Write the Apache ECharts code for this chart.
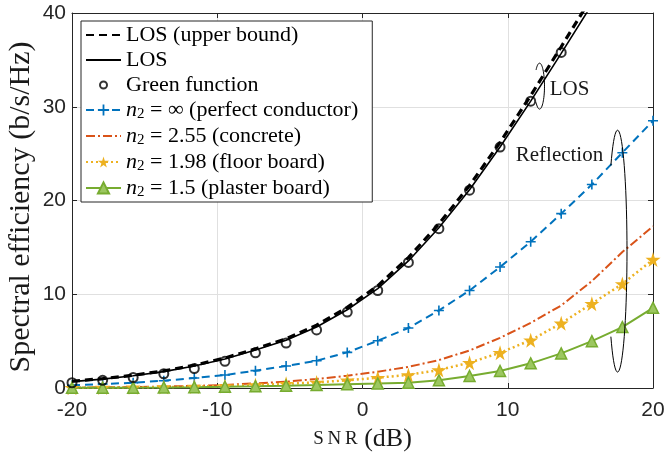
<!DOCTYPE html>
<html>
<head>
<meta charset="utf-8">
<script src="https://cdn.jsdelivr.net/npm/echarts@6/dist/echarts.min.js"></script>
<style>
  html, body { margin: 0; padding: 0; background: #fff; }
  #main { width: 668px; height: 457px; }
</style>
</head>
<body>
<div id="main"></div>
<script type="text/javascript">
// SNR sample points (dB)
var snr = [-20, -17.89, -15.79, -13.68, -11.58, -9.47, -7.37, -5.26, -3.16, -1.05,
           1.05, 3.16, 5.26, 7.37, 9.47, 11.58, 13.68, 15.79, 17.89, 20];

// spectral efficiency (b/s/Hz)
var losUpper = [0.72, 1.0, 1.36, 1.82, 2.43, 3.2, 4.17, 5.25, 6.7, 8.6,
                10.9, 13.9, 17.5, 21.6, 26.2, 31.2, 36.4, 41.7];
var los      = [0.68, 0.95, 1.3, 1.75, 2.35, 3.1, 4.05, 5.1, 6.5, 8.35,
                10.6, 13.55, 17.1, 21.15, 25.7, 30.6, 35.7, 40.9];
var green    = [0.56, 0.82, 1.12, 1.52, 2.08, 2.85, 3.75, 4.8, 6.2, 8.1,
                10.4, 13.4, 17.0, 21.1, 25.7, 30.6, 35.8];
var perfect  = [0.3, 0.42, 0.56, 0.78, 1.06, 1.38, 1.85, 2.34, 2.91, 3.8,
                5.04, 6.4, 8.27, 10.4, 12.9, 15.6, 18.6, 21.7, 25.1, 28.5];
var concrete = [0.05, 0.07, 0.1, 0.15, 0.22, 0.32, 0.5, 0.67, 0.96, 1.31,
                1.74, 2.25, 2.98, 4.0, 5.35, 6.95, 8.8, 11.4, 14.5, 17.25];
var floorB   = [0.03, 0.05, 0.07, 0.1, 0.15, 0.22, 0.32, 0.45, 0.6, 0.82,
                1.1, 1.4, 1.92, 2.7, 3.76, 5.1, 6.9, 9.0, 11.1, 13.7];
var plaster  = [0.02, 0.03, 0.04, 0.06, 0.09, 0.13, 0.18, 0.24, 0.31, 0.39,
                0.47, 0.56, 0.82, 1.28, 1.81, 2.63, 3.69, 5.0, 6.5, 8.55];

var names = ['LOS (upper bound)', 'LOS', 'Green function',
             'n2 = ∞ (perfect conductor)', 'n2 = 2.55 (concrete)',
             'n2 = 1.98 (floor board)', 'n2 = 1.5 (plaster board)'];

var xTicks = [-20, 20, 10];
var yTicks = [0, 40, 10];

function pts(ys) {
  return ys.map(function (v, i) { return [snr[i], v]; });
}

var plusPath = 'path://M4.2,0h1.6v4.2h4.2v1.6h-4.2v4.2h-1.6v-4.2h-4.2v-1.6h4.2z';
var starPath = 'path://M50,0L61,35L98,35L68,57L79,91L50,70L21,91L32,57L2,35L39,35Z';
var ringIcon = 'path://M0,0M20,20M15,10A5,5,0,1,1,5,10A5,5,0,1,1,15,10Z';

var axisCol = '#262626';
var serif = 'Liberation Serif';

var chart = echarts.init(document.getElementById('main'));

var tickAxis = function (pos, isX) {
  return {
    type: 'value', position: pos,
    min: isX ? xTicks[0] : yTicks[0], max: isX ? xTicks[1] : yTicks[1],
    interval: isX ? xTicks[2] : yTicks[2],
    axisLine: { show: true, onZero: false, lineStyle: { color: axisCol, width: 1 } },
    axisTick: { show: true, inside: true, length: 5, lineStyle: { color: axisCol } },
    axisLabel: { show: false },
    splitLine: { show: false }
  };
};

var noSym = { opacity: 0 };
var legendData = [
  { name: names[0], itemStyle: noSym },
  { name: names[1], itemStyle: noSym },
  { name: names[2], icon: ringIcon,
    itemStyle: { color: 'rgba(0,0,0,0)', borderColor: '#000', borderWidth: 2 } },
  { name: names[3] },
  { name: names[4], itemStyle: noSym },
  { name: names[5] },
  { name: names[6] }
];

var option = {
  animation: false,
  backgroundColor: '#fff',
  grid: { left: 72, right: 15, top: 13, bottom: 69, containLabel: false, outerBoundsMode: 'none' },
  xAxis: [{
    type: 'value', min: xTicks[0], max: xTicks[1], interval: xTicks[2],
    name: '{m|S\u2009N\u2009R} (dB)', nameLocation: 'middle', nameGap: 38,
    nameTextStyle: {
      fontFamily: serif, fontSize: 26, color: '#1a1a1a',
      rich: { m: { fontFamily: serif, fontSize: 19, color: '#1a1a1a' } }
    },
    axisLine: { onZero: false, lineStyle: { color: axisCol, width: 1 } },
    axisTick: { inside: true, length: 5, lineStyle: { color: axisCol } },
    axisLabel: { fontFamily: 'Liberation Sans', fontSize: 21, color: axisCol, margin: 12 },
    splitLine: { show: true, lineStyle: { color: '#e0e0e0', width: 1 } }
  }, tickAxis('top', true)],
  yAxis: [{
    type: 'value', min: yTicks[0], max: yTicks[1], interval: yTicks[2],
    axisLine: { show: true, onZero: false, lineStyle: { color: axisCol, width: 1 } },
    axisTick: { show: true, inside: true, length: 5, lineStyle: { color: axisCol } },
    axisLabel: { fontFamily: 'Liberation Sans', fontSize: 21, color: axisCol, margin: 6 },
    splitLine: { show: true, lineStyle: { color: '#e0e0e0', width: 1 } }
  }, tickAxis('right', false)],
  legend: {
    orient: 'vertical', left: 81, top: 21,
    padding: [3, 14, 2, 4], itemGap: 3, itemWidth: 35, itemHeight: 14,
    backgroundColor: '#fff', borderColor: axisCol, borderWidth: 1,
    data: legendData,
    formatter: function (n) {
      if (n.indexOf('n2') === 0) return '{i|n}{s|2}' + n.slice(2);
      return n;
    },
    textStyle: {
      fontFamily: serif, fontSize: 22, color: '#000', lineHeight: 22,
      rich: {
        i: { fontFamily: serif, fontSize: 22, fontStyle: 'italic', color: '#000', lineHeight: 22 },
        s: { fontFamily: serif, fontSize: 15, color: '#000', lineHeight: 14,
             padding: [8, 0, 0, 0], verticalAlign: 'top' }
      }
    }
  },
  series: [
    { name: names[0], type: 'line', data: pts(losUpper), symbol: 'none', z: 4,
      lineStyle: { color: '#000', width: 3.2, type: [8, 5] }, itemStyle: { color: '#000' } },
    { name: names[1], type: 'line', data: pts(los), symbol: 'none', z: 4,
      lineStyle: { color: '#000', width: 1.6 }, itemStyle: { color: '#000' } },
    { name: names[2], type: 'scatter', data: pts(green), symbol: 'circle', symbolSize: 9, z: 5,
      itemStyle: { color: 'rgba(0,0,0,0)', borderColor: '#000', borderWidth: 2 } },
    { name: names[3], type: 'line', data: pts(perfect), symbol: plusPath, symbolSize: 10,
      showAllSymbol: true,
      lineStyle: { color: '#0072BD', width: 2, type: [8, 5] }, itemStyle: { color: '#0072BD' } },
    { name: names[4], type: 'line', data: pts(concrete), symbol: 'none',
      lineStyle: { color: '#D95319', width: 2, type: [9, 3, 2, 3] }, itemStyle: { color: '#D95319' } },
    { name: names[5], type: 'line', data: pts(floorB), symbol: starPath, symbolSize: 15,
      showAllSymbol: true,
      lineStyle: { color: '#EDB120', width: 2.5, type: [2, 3] }, itemStyle: { color: '#EDB120' } },
    { name: names[6], type: 'line', data: pts(plaster), symbol: 'triangle', symbolSize: 11,
      showAllSymbol: true,
      lineStyle: { color: '#77AC30', width: 2 },
      itemStyle: { color: '#9cc760', borderColor: '#77AC30', borderWidth: 1.5 } }
  ]
};

chart.setOption(option);

// annotations: partial ellipses + labels, placed in data coordinates
var notes = [
  { text: 'LOS', at: [14.25, 31.85], c: [12.19, 32.2], r: [0.34, 2.45] },
  { text: 'Reflection', at: [13.56, 24.75], c: [17.56, 14.6], r: [0.65, 12.9] }
];
var g = [];
notes.forEach(function (n) {
  var p = chart.convertToPixel({ xAxisIndex: 0, yAxisIndex: 0 }, n.at);
  var c = chart.convertToPixel({ xAxisIndex: 0, yAxisIndex: 0 }, n.c);
  var e = chart.convertToPixel({ xAxisIndex: 0, yAxisIndex: 0 }, [n.c[0] + n.r[0], n.c[1] + n.r[1]]);
  var rx = e[0] - c[0], ry = c[1] - e[1];
  var arc = [];
  for (var a = 135; a >= -135; a -= 5) {
    var t = a * Math.PI / 180;
    arc.push([c[0] + rx * Math.cos(t), c[1] - ry * Math.sin(t)]);
  }
  g.push({ type: 'polyline', z: 10, shape: { points: arc },
           style: { stroke: '#000', lineWidth: 1, fill: null } });
  g.push({ type: 'text', z: 10, x: p[0], y: p[1],
           style: { text: n.text, fontFamily: serif, fontSize: 21, fill: '#1a1a1a',
                    align: 'center', verticalAlign: 'middle' } });
});
// y axis title
g.push({ type: 'text', x: 21, y: 207, rotation: Math.PI / 2,
         style: { text: 'Spectral efficiency (b/s/Hz)', fontFamily: serif, fontSize: 30,
                  fill: '#1a1a1a', align: 'center', verticalAlign: 'middle' } });
chart.setOption({ graphic: g });
</script>
</body>
</html>
